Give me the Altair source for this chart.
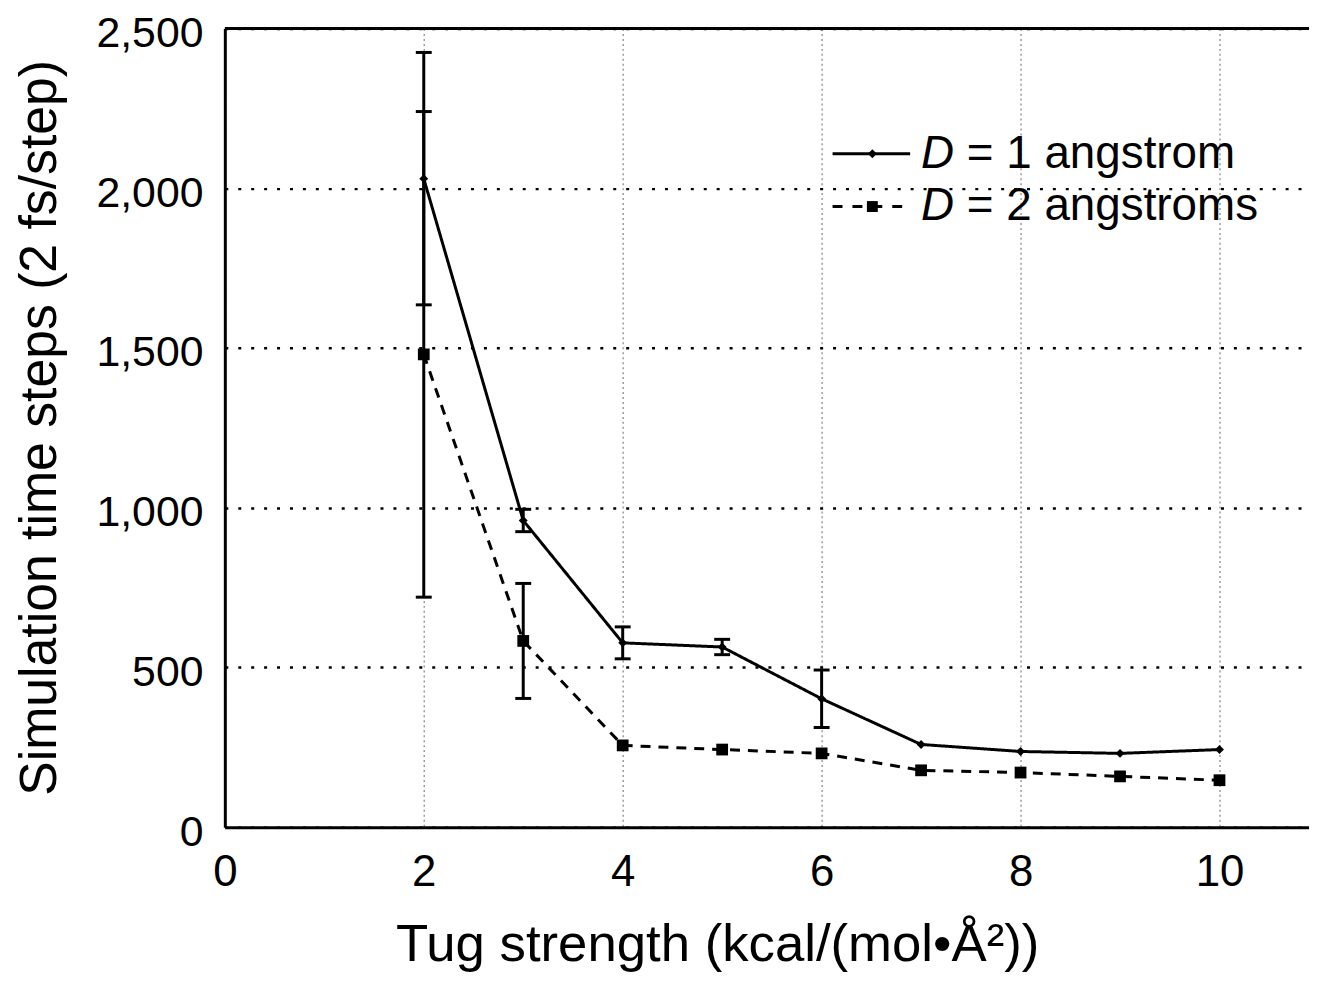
import altair as alt
import pandas as pd

# ---- data ----
tug = [2, 3, 4, 5, 6, 7, 8, 9, 10]
d1_steps = [2030, 960, 577, 564, 402, 259, 237, 231, 243]
d1_err = [395, 35, 50, 24, 90, 0, 0, 0, 0]
d2_steps = [1480, 583, 256, 243, 231, 178, 171, 159, 147]
d2_err = [760, 180, 0, 0, 0, 0, 0, 0, 0]
series_names = ["D = 1 angstrom", "D = 2 angstroms"]
legend_rest = ["= 1 angstrom", "= 2 angstroms"]
x_ticks = [0, 2, 4, 6, 8, 10]
y_ticks = [0, 500, 1000, 1500, 2000, 2500]

rows = []
for name, vals, errs in ((series_names[0], d1_steps, d1_err),
                         (series_names[1], d2_steps, d2_err)):
    for x, y, e in zip(tug, vals, errs):
        rows.append({"tug": x, "steps": y, "err": e, "lo": y - e, "hi": y + e, "series": name})
df = pd.DataFrame(rows)
err_df = df[df["err"] > 0].copy()

FONT = "Liberation Sans"
W, H = 1090, 803
LW = 3

xscale = alt.Scale(domain=[0, 10.9], nice=False, zero=False)
yscale = alt.Scale(domain=[0, 2500], nice=False)

x_axis = alt.Axis(
    values=x_ticks, title="Tug strength (kcal/(mol•Å²))",
    labelExpr="format(datum.value, 'd')",
    grid=True, gridColor="#9a9a9a", gridDash=[2, 3], gridWidth=1.5,
    domain=True, domainColor="black", domainWidth=LW,
    ticks=False, labelFont=FONT, labelFontSize=44, labelColor="black",
    labelPadding=24, labelFlush=False,
    titleFont=FONT, titleFontSize=53, titleFontWeight="normal", titleColor="black",
    titleX=495, titleY=134, titleBaseline="alphabetic", titleAlign="center",
)
y_axis = alt.Axis(
    values=y_ticks, title="Simulation time steps (2 fs/step)",
    labelExpr="format(datum.value, ',')",
    grid=True, gridColor="black", gridDash=[3, 10], gridWidth=2.5,
    domain=True, domainColor="black", domainWidth=LW,
    ticks=False, labelFont=FONT, labelFontSize=43, labelColor="black",
    labelPadding=22, labelFlush=False, labelBaseline="top", labelOffset=-16,
    titleFont=FONT, titleFontSize=52, titleFontWeight="normal", titleColor="black",
    titleX=-170, titleY=401, titleBaseline="alphabetic", titleAlign="center", titleAngle=270,
)

X = alt.X("tug:Q", scale=xscale, axis=x_axis)
Y = alt.Y("steps:Q", scale=yscale, axis=y_axis)

dash_scale = alt.Scale(domain=series_names, range=[[1, 0], [10, 8]])
shape_scale = alt.Scale(domain=series_names, range=["diamond", "square"])
size_scale = alt.Scale(domain=series_names, range=[80, 140])

base = alt.Chart(df)

lines = base.mark_line(color="black", strokeWidth=LW).encode(
    x=X, y=Y,
    strokeDash=alt.StrokeDash("series:N", scale=dash_scale, legend=None),
    detail="series:N",
)

err_rules = alt.Chart(err_df).mark_rule(color="black", strokeWidth=LW).encode(
    x=alt.X("tug:Q", scale=xscale, axis=x_axis),
    y=alt.Y("lo:Q", scale=yscale, axis=y_axis), y2="hi:Q"
)
caps_lo = alt.Chart(err_df).mark_tick(color="black", thickness=LW, size=16, orient="horizontal", opacity=1).encode(
    x=alt.X("tug:Q", scale=xscale, axis=x_axis), y=alt.Y("lo:Q", scale=yscale, axis=y_axis)
)
caps_hi = alt.Chart(err_df).mark_tick(color="black", thickness=LW, size=16, orient="horizontal", opacity=1).encode(
    x=alt.X("tug:Q", scale=xscale, axis=x_axis), y=alt.Y("hi:Q", scale=yscale, axis=y_axis)
)

points = base.mark_point(filled=True, color="black", opacity=1).encode(
    x=X, y=Y,
    shape=alt.Shape("series:N", scale=shape_scale, legend=None),
    size=alt.Size("series:N", scale=size_scale, legend=None),
)

one = pd.DataFrame({"k": [0]})

top_rule = alt.Chart(one).mark_rule(color="black", strokeWidth=LW).encode(
    x=alt.value(0), x2=alt.value(W), y=alt.value(0)
)

# ---- manual legend ----
leg_x0, leg_x1, leg_mark = 611, 689, 651
leg_y = [126, 179]
leg_line1 = alt.Chart(one).mark_rule(color="black", strokeWidth=LW).encode(
    x=alt.value(leg_x0), x2=alt.value(leg_x1), y=alt.value(leg_y[0])
)
leg_line2 = alt.Chart(one).mark_rule(color="black", strokeWidth=LW, strokeDash=[10, 10]).encode(
    x=alt.value(leg_x0), x2=alt.value(leg_x1 - 8), y=alt.value(leg_y[1])
)
leg_pt1 = alt.Chart(one).mark_point(filled=True, color="black", shape="diamond", size=80, opacity=1).encode(
    x=alt.value(leg_mark), y=alt.value(leg_y[0])
)
leg_pt2 = alt.Chart(one).mark_point(filled=True, color="black", shape="square", size=120, opacity=1).encode(
    x=alt.value(leg_mark), y=alt.value(leg_y[1])
)
leg_D = []
leg_txt = []
for i in range(2):
    leg_D.append(alt.Chart(one).mark_text(
        text="D", font=FONT, fontSize=46, fontStyle="italic", align="left", baseline="middle", color="black"
    ).encode(x=alt.value(700), y=alt.value(leg_y[i])))
    leg_txt.append(alt.Chart(one).mark_text(
        text=legend_rest[i], font=FONT, fontSize=46, align="left", baseline="middle", color="black"
    ).encode(x=alt.value(746), y=alt.value(leg_y[i])))

chart = alt.layer(
    lines, err_rules, caps_lo, caps_hi, points, top_rule,
    leg_line1, leg_line2, leg_pt1, leg_pt2, *leg_D, *leg_txt
).properties(
    width=W, height=H,
    padding={"left": 218, "top": 18, "right": 0, "bottom": 145},
    autosize=alt.AutoSizeParams(type="none"),
    background="white",
).configure_view(stroke=None)

chart.save("out.html", embed_options={"renderer": "svg", "actions": False})
